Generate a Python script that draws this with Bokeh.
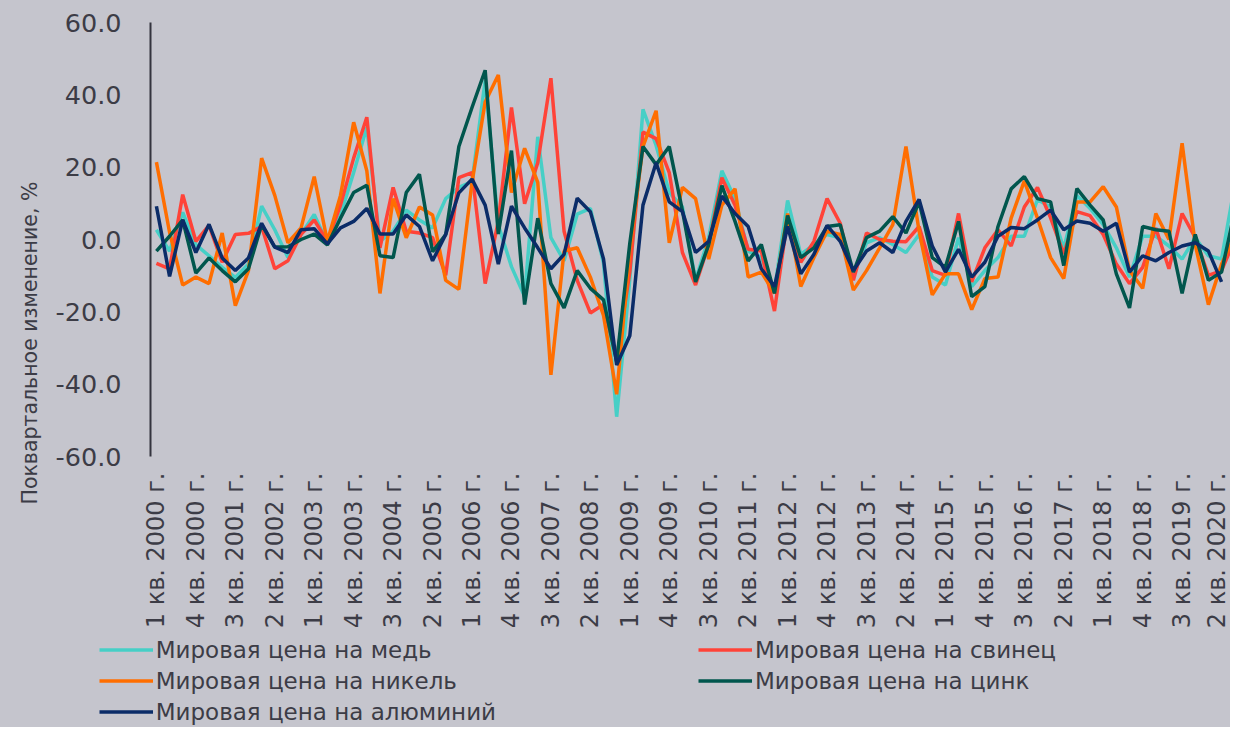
from math import pi
from bokeh.plotting import figure
from bokeh.layouts import column, row
from bokeh.models import (Range1d, FixedTicker, NumeralTickFormatter, Legend,
                          LegendItem, Title)
from bokeh.embed import file_html
from bokeh.resources import INLINE

# ---------------- data (quarterly % change, 1 кв. 2000 г. ... ) ----------------
tick_labels = ["1 кв. 2000 г.", "4 кв. 2000 г.", "3 кв. 2001 г.", "2 кв. 2002 г.",
               "1 кв. 2003 г.", "4 кв. 2003 г.", "3 кв. 2004 г.", "2 кв. 2005 г.",
               "1 кв. 2006 г.", "4 кв. 2006 г.", "3 кв. 2007 г.", "2 кв. 2008 г.",
               "1 кв. 2009 г.", "4 кв. 2009 г.", "3 кв. 2010 г.", "2 кв. 2011 г.",
               "1 кв. 2012 г.", "4 кв. 2012 г.", "3 кв. 2013 г.", "2 кв. 2014 г.",
               "1 кв. 2015 г.", "4 кв. 2015 г.", "3 кв. 2016 г.", "2 кв. 2017 г.",
               "1 кв. 2018 г.", "4 кв. 2018 г.", "3 кв. 2019 г.", "2 кв. 2020 г."]

copper = [2.7, -3.2, 7.5, -1.4, -4.5, -7.7, -10.5, -6.8, 9.2, 2.7,
          -5.0, 1.4, 6.9, -1.0, 6.8, 18.5, 31.0, -0.5, 2.3, 8.1,
          5.4, 3.2, 11.3, 14.4, 16.0, 44.0, 4.0, -7.5, -15.8, 28.4,
          0.5, -5.9, 7.0, 8.6, -6.5, -49.0, -11.0, 36.0, 26.0, 13.0,
          9.0, -11.3, 0.5, 19.0, 11.3, -3.2, -5.0, -14.0, 10.8, -4.1,
          -1.4, 1.4, 0.5, -9.9, -0.9, 0.5, -1.4, -3.6, 1.4, -10.4,
          -12.6, 0.5, -13.0, -8.6, -5.0, 0.9, 0.9, 11.0, 9.0, -2.5,
          12.2, 8.6, 4.1, -2.3, -10.4, 0.9, 0.9, -1.8, -5.4, 0.5,
          -4.5, -5.4, 15.0]

lead = [-6.6, -8.1, 12.4, -0.5, 3.9, -6.3, 1.4, 1.7, 3.6, -8.1,
        -5.9, 1.4, 5.4, -0.5, 9.5, 22.5, 33.8, -2.3, 14.4, 2.3,
        1.8, 0.5, -9.9, 17.1, 18.5, -12.2, 5.0, 36.5, 9.9, 21.2,
        44.6, 2.3, -11.3, -20.3, -18.0, -33.0, -9.0, 29.7, 27.9, 18.5,
        -3.6, -12.6, -1.4, 17.1, 9.5, -2.7, -3.2, -19.8, 5.9, -6.3,
        -0.5, 11.3, 4.5, -11.3, 1.8, 0.0, -0.5, -0.6, 3.6, -8.6,
        -9.9, 7.2, -11.7, -2.3, 2.7, -1.8, 9.0, 14.4, 6.0, -4.0,
        7.7, 6.6, 1.4, -6.8, -12.2, -7.7, 3.2, -8.1, 7.2, 0.5,
        -9.9, -8.6, 0.0]

nickel = [21.4, 2.0, -12.6, -10.4, -12.2, 1.8, -18.3, -8.6, 22.5, 12.2,
          -0.9, 3.2, 17.4, -0.5, 12.2, 32.4, 19.0, -14.9, 11.3, 0.5,
          9.0, 6.8, -11.3, -13.8, 15.8, 38.0, 45.5, 13.0, 25.2, 15.8,
          -37.4, -3.2, -2.3, -10.4, -21.0, -42.8, -3.0, 25.7, 35.6, -0.9,
          14.4, 11.3, -5.4, 9.5, 14.0, -10.4, -9.0, -14.9, 7.2, -13.0,
          -5.0, 2.3, 1.4, -14.0, -8.6, -2.3, 4.1, 25.7, 2.3, -15.3,
          -9.5, -9.5, -19.4, -10.8, -10.4, 5.9, 16.2, 5.9, -5.0, -10.8,
          10.4, 10.4, 14.6, 9.0, -8.6, -13.5, 7.2, 0.0, 26.6, -1.4,
          -18.0, -6.8, 1.0]

zinc = [-3.2, 0.9, 5.4, -9.3, -5.1, -8.6, -11.7, -8.1, 4.1, -2.1,
        -2.0, 0.0, 1.5, -1.5, 5.9, 13.0, 15.0, -4.5, -5.0, 13.0,
        18.0, -3.4, 1.4, 25.7, 36.5, 46.8, 1.5, 24.6, -18.0, 5.9,
        -12.2, -18.9, -8.6, -13.5, -16.7, -33.8, -1.0, 25.7, 20.7, 25.7,
        8.0, -11.7, -1.4, 14.9, 5.0, -5.9, -1.4, -14.9, 6.6, -5.0,
        -2.3, 3.6, 4.1, -9.0, 0.5, 2.3, 6.3, 1.8, 10.4, -5.0,
        -7.7, 5.0, -15.8, -13.0, 3.6, 14.0, 17.4, 11.3, 10.4, -7.2,
        14.1, 9.5, 5.4, -9.5, -18.9, 3.6, 2.7, 2.3, -14.9, 1.4,
        -11.3, -9.0, 7.9]

aluminium = [9.2, -10.2, 5.4, -3.6, 4.2, -5.1, -8.6, -5.1, 4.5, -2.1,
             -3.6, 2.7, 3.0, -1.2, 3.2, 5.0, 8.6, 1.5, 1.5, 6.8,
             3.6, -5.9, 1.4, 12.9, 16.7, 9.5, -6.8, 9.2, 3.2, -2.3,
             -8.1, -4.1, 11.4, 7.7, -5.4, -34.7, -26.6, 9.5, 21.2, 10.4,
             7.7, -3.6, -0.5, 12.0, 7.2, 3.6, -8.1, -13.0, 3.6, -9.5,
             -4.1, 3.9, -0.5, -8.6, -3.2, -0.9, -3.6, 5.0, 11.1, -1.8,
             -9.0, -2.7, -10.4, -6.3, 0.9, 3.3, 3.0, 5.4, 8.1, 2.7,
             5.1, 4.5, 2.3, 4.5, -9.0, -4.5, -5.9, -3.6, -1.8, -0.9,
             -3.2, -11.7]

series_names = ["Мировая цена на медь", "Мировая цена на свинец",
                "Мировая цена на никель", "Мировая цена на цинк",
                "Мировая цена на алюминий"]
y_title = "Поквартальное изменение, %"

# ---------------- style ----------------
BG = "#c5c5cd"
TXT = "#3c3c46"
FONT = "DejaVu Sans"
COL = {"cu": "#46cfc6", "pb": "#ff4338", "ni": "#ff6e00",
       "zn": "#01564d", "al": "#0b2c68"}
LW = 3.5
STY = {"background-color": BG}

W_TOTAL, H_TOTAL = 1230, 727
H_MAIN = 634

# ---------------- main chart ----------------
p = figure(width=W_TOTAL, height=H_MAIN, output_backend="svg",
           toolbar_location=None,
           x_range=Range1d(-0.45, 81.68), y_range=Range1d(-60, 60),
           min_border_left=150, min_border_right=0, min_border_top=22,
           min_border_bottom=178, background_fill_color=BG,
           border_fill_color=BG, outline_line_color=None, styles=STY)
p.xgrid.visible = False
p.ygrid.visible = False

data = [("cu", copper), ("pb", lead), ("ni", nickel), ("zn", zinc), ("al", aluminium)]
for key, vals in data:
    p.line(list(range(len(vals))), vals, line_color=COL[key], line_width=LW)

ya = p.yaxis[0]
ya.ticker = FixedTicker(ticks=[-60, -40, -20, 0, 20, 40, 60])
ya.formatter = NumeralTickFormatter(format="0.0")
ya.major_tick_line_color = None
ya.minor_tick_line_color = None
ya.axis_line_color = "#34343e"
ya.axis_line_width = 2
ya.major_label_text_font = FONT
ya.major_label_text_font_size = "25.5px"
ya.major_label_text_color = TXT
ya.major_label_standoff = 23

xa = p.xaxis[0]
tick_pos = [3 * k for k in range(len(tick_labels))]
xa.ticker = FixedTicker(ticks=tick_pos)
xa.major_label_overrides = {t: lab for t, lab in zip(tick_pos, tick_labels)}
xa.major_label_orientation = pi / 2
xa.axis_line_color = None
xa.major_tick_line_color = None
xa.minor_tick_line_color = None
xa.major_label_text_font = FONT
xa.major_label_text_font_size = "24px"
xa.major_label_text_color = TXT
xa.major_label_standoff = 10

# y-axis title as a side title (starts below the frame, like in the reference)
p.add_layout(Title(text=y_title, align="left", offset=-48, standoff=22,
                   text_font=FONT, text_font_size="20.5px",
                   text_font_style="normal", text_color=TXT), "left")

# ---------------- legend panel ----------------
H_LEG = H_TOTAL - H_MAIN
lg = figure(width=W_TOTAL, height=H_LEG, output_backend="svg",
            toolbar_location=None, x_range=Range1d(0, 1),
            y_range=Range1d(1000, 1001), x_axis_type=None, y_axis_type=None,
            min_border=0, background_fill_color=BG, border_fill_color=BG,
            outline_line_color=None, styles=STY)
lg.xgrid.visible = False
lg.ygrid.visible = False
# legend keys: same series, out of this panel's visible range
keys = {}
for key, vals in data:
    keys[key] = lg.line(list(range(len(vals))), vals, line_color=COL[key],
                        line_width=LW)


def make_legend(items, loc):
    return Legend(items=items, location=loc, orientation="vertical",
                  glyph_width=54, glyph_height=31, label_height=31,
                  label_standoff=3, padding=0, margin=0, spacing=0,
                  background_fill_alpha=0, border_line_color=None,
                  label_text_font=FONT, label_text_font_size="23px",
                  label_text_color=TXT)


legA = make_legend([LegendItem(label=series_names[0], renderers=[keys["cu"]]),
                    LegendItem(label=series_names[2], renderers=[keys["ni"]]),
                    LegendItem(label=series_names[4], renderers=[keys["al"]])],
                   (98.7, 0))
legB = make_legend([LegendItem(label=series_names[1], renderers=[keys["pb"]]),
                    LegendItem(label=series_names[3], renderers=[keys["zn"]])],
                   (698, 31))
lg.add_layout(legA)
lg.add_layout(legB)

layout = column(row(p, styles=STY), lg, styles=STY)
open("out.html", "w").write(file_html(layout, INLINE))
